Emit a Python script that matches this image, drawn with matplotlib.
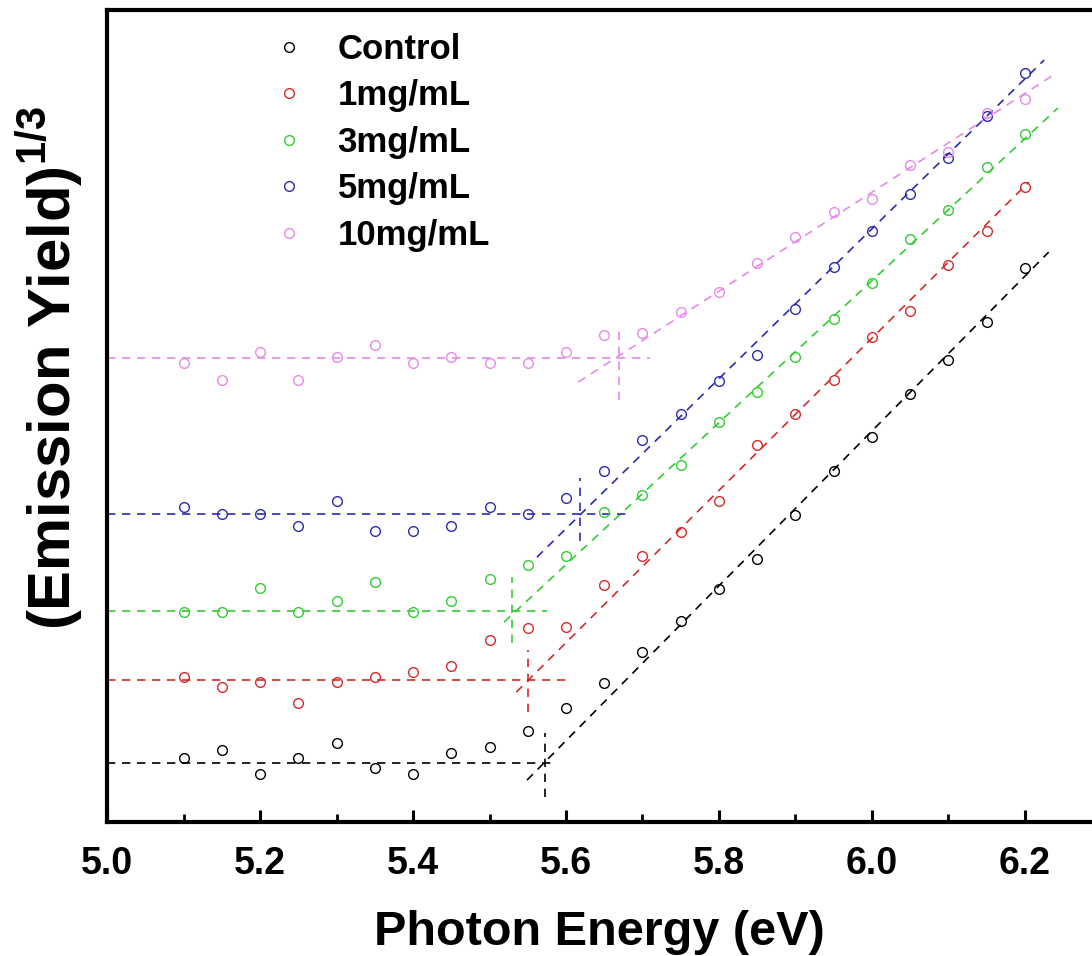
import numpy as np
import matplotlib
matplotlib.use("Agg")
import matplotlib.pyplot as plt
from matplotlib.ticker import MultipleLocator

plt.rcParams['font.family'] = ['Liberation Sans', 'DejaVu Sans']
plt.rcParams['mathtext.fontset'] = 'custom'
plt.rcParams['mathtext.rm'] = 'Liberation Sans'
plt.rcParams['mathtext.bf'] = 'Liberation Sans:bold'

# photon energy (eV)
energy = np.round(np.arange(5.10, 6.201, 0.05), 2)

labels = ['Control', '1mg/mL', '3mg/mL', '5mg/mL', '10mg/mL']
colors = ['black', '#d42a2a', '#33cc33', '#2b2bb0', '#e58be5']

# (emission yield)^(1/3), arbitrary units
control = [0.64, 0.72, 0.48, 0.64, 0.79, 0.54, 0.48, 0.69, 0.75, 0.91, 1.14, 1.39,
           1.70, 2.01, 2.33, 2.63, 3.07, 3.51, 3.85, 4.28, 4.62, 5.00, 5.54]
c1 = [1.45, 1.35, 1.40, 1.19, 1.40, 1.45, 1.50, 1.56, 1.82, 1.94, 1.95, 2.37,
      2.66, 2.90, 3.21, 3.77, 4.08, 4.42, 4.85, 5.11, 5.57, 5.91, 6.35]
c3 = [2.10, 2.10, 2.34, 2.10, 2.21, 2.40, 2.10, 2.21, 2.43, 2.57, 2.66, 3.10,
      3.27, 3.57, 4.00, 4.30, 4.65, 5.03, 5.39, 5.83, 6.12, 6.55, 6.88]
c5 = [3.15, 3.08, 3.08, 2.96, 3.21, 2.91, 2.91, 2.96, 3.15, 3.08, 3.24, 3.51,
      3.82, 4.08, 4.41, 4.67, 5.13, 5.55, 5.91, 6.28, 6.64, 7.06, 7.49]
c10 = [4.59, 4.42, 4.70, 4.42, 4.65, 4.77, 4.59, 4.65, 4.59, 4.59, 4.70, 4.87,
       4.89, 5.10, 5.30, 5.59, 5.85, 6.10, 6.23, 6.57, 6.70, 7.09, 7.23]
series = [control, c1, c3, c5, c10]

# background (horizontal) lines: level and end energy
base_y = [0.59, 1.42, 2.11, 3.08, 4.64]
base_end = [5.588, 5.603, 5.575, 5.68, 5.71]
# linear fits of the rising part: start/end energy and value
fit_x0 = [5.549, 5.535, 5.519, 5.562, 5.616]
fit_y0 = [0.42, 1.30, 2.00, 2.65, 4.40]
fit_x1 = [6.231, 6.205, 6.243, 6.225, 6.237]
fit_y1 = [5.70, 6.40, 7.14, 7.62, 7.47]
# threshold markers (vertical dashes)
thr_x = [5.5725, 5.55, 5.53, 5.618, 5.669]
thr_lo = [0.25, 1.10, 1.79, 2.81, 4.22]
thr_hi = [0.89, 1.72, 2.45, 3.44, 4.92]

fig = plt.figure(figsize=(10.92, 9.56), dpi=100)
ax = fig.add_axes([0.098, 0.140, 0.902, 0.8495])

dash = (0, (5, 4))
for i in range(5):
    c = colors[i]
    ax.plot(energy, series[i], 'o', ms=7, mfc='none', mec=c, mew=1.0,
            label=labels[i], zorder=3)
    ax.plot([5.0, base_end[i]], [base_y[i], base_y[i]], color=c, lw=1.2,
            linestyle=dash)
    ax.plot([fit_x0[i], fit_x1[i]], [fit_y0[i], fit_y1[i]], color=c, lw=1.2,
            linestyle=dash)
    ax.plot([thr_x[i], thr_x[i]], [thr_lo[i], thr_hi[i]], color=c, lw=1.2,
            linestyle=dash)

ax.set_xlim(5.0, 6.2876)
ax.set_ylim(0, 8.12)
ax.xaxis.set_major_locator(MultipleLocator(0.2))
ax.xaxis.set_minor_locator(MultipleLocator(0.1))
ax.xaxis.set_major_formatter(matplotlib.ticker.FormatStrFormatter('%.1f'))
ax.set_yticks([])
ax.tick_params(axis='x', which='major', direction='in', length=9, width=2.2,
               labelsize=27, pad=17)
ax.tick_params(axis='x', which='minor', direction='in', length=6, width=2.0)
for lab in ax.get_xticklabels():
    lab.set_fontweight('bold')
for s in ['left', 'bottom', 'top']:
    ax.spines[s].set_linewidth(3)
ax.spines['right'].set_visible(False)

ax.set_xlabel('Photon Energy (eV)', fontsize=35, fontweight='bold', labelpad=20)
ax.set_ylabel(r'(Emission Yield)$^{\mathbf{1/3}}$', fontsize=43,
              fontweight='bold')
ax.yaxis.set_label_coords(-0.022, 0.559)

leg = ax.legend(loc='upper left', bbox_to_anchor=(0.153, 0.989), frameon=False,
                prop={'weight': 'bold', 'size': 25}, handlelength=1.0,
                handletextpad=0.9, labelspacing=0.39, borderaxespad=0.0)

fig.savefig('out.png', dpi=100)
